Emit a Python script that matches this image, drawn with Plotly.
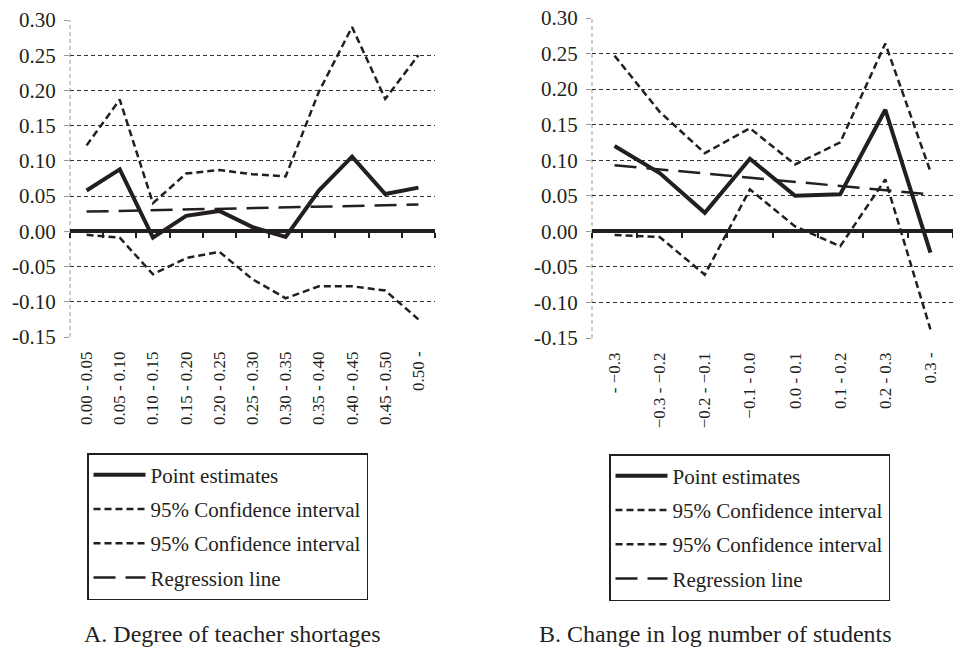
import plotly.graph_objects as go

# ---------------- data ----------------
cats_a = ["0.00 - 0.05", "0.05 - 0.10", "0.10 - 0.15", "0.15 - 0.20", "0.20 - 0.25",
          "0.25 - 0.30", "0.30 - 0.35", "0.35 - 0.40", "0.40 - 0.45", "0.45 - 0.50", "0.50 -"]
point_a = [0.058, 0.088, -0.009, 0.022, 0.029, 0.006, -0.008, 0.058, 0.106, 0.053, 0.062]
upper_a = [0.122, 0.187, 0.040, 0.082, 0.087, 0.081, 0.078, 0.198, 0.290, 0.188, 0.250]
lower_a = [-0.005, -0.009, -0.061, -0.038, -0.029, -0.068, -0.095, -0.078, -0.078, -0.084, -0.125]
reg_a = [0.028, 0.029, 0.030, 0.031, 0.032, 0.033, 0.034, 0.035, 0.036, 0.037, 0.038]

cats_b = ["- \u22120.3", "\u22120.3 - \u22120.2", "\u22120.2 - \u22120.1", "\u22120.1 - 0.0",
          "0.0 - 0.1", "0.1 - 0.2", "0.2 - 0.3", "0.3 -"]
point_b = [0.120, 0.082, 0.026, 0.102, 0.050, 0.052, 0.171, -0.030]
upper_b = [0.247, 0.168, 0.110, 0.145, 0.094, 0.125, 0.264, 0.084]
lower_b = [-0.005, -0.008, -0.061, 0.059, 0.007, -0.021, 0.073, -0.138]
reg_b = [0.093, 0.087, 0.081, 0.075, 0.070, 0.064, 0.058, 0.052]

y_tick_vals = [-0.15, -0.10, -0.05, 0.00, 0.05, 0.10, 0.15, 0.20, 0.25, 0.30]
y_tick_text = ["-0.15", "-0.10", "-0.05", "0.00", "0.05", "0.10", "0.15", "0.20", "0.25", "0.30"]

series_names = ["Point estimates", "95% Confidence interval", "95% Confidence interval", "Regression line"]
panel_titles = ["A. Degree of teacher shortages", "B. Change in log number of students"]

# ---------------- style ----------------
INK = "#231f20"
FONT = "Liberation Serif"
W, H = 953, 652
styles = [
    dict(width=4, dash="solid"),
    dict(width=2.5, dash="7px,4px"),
    dict(width=2.5, dash="7px,4px"),
    dict(width=2.5, dash="22px,10px"),
]

fig = go.Figure()

# point estimates are drawn on the overlay axis (x3 / x4) so that axis (the zero line) is rendered
panels = [
    dict(cats=cats_a, series=[point_a, upper_a, lower_a, reg_a], xa="x", xz="x3", ya="y",
         legend="legend", grp="a"),
    dict(cats=cats_b, series=[point_b, upper_b, lower_b, reg_b], xa="x2", xz="x4", ya="y2",
         legend="legend2", grp="b"),
]

for p in panels:
    for i, (name, vals) in enumerate(zip(series_names, p["series"])):
        fig.add_trace(go.Scatter(
            x=p["cats"], y=vals, mode="lines", name=name,
            line=dict(color=INK, width=styles[i]["width"], dash=styles[i]["dash"]),
            xaxis=p["xz"] if i == 0 else p["xa"], yaxis=p["ya"], legend=p["legend"],
            legendgroup=f"{p['grp']}{i}", hoverinfo="skip",
        ))

# plot area geometry (pixels)
left_px = dict(x0=70, x1=435, top=20, bottom=337)
right_px = dict(x0=592, x1=953, top=18, bottom=338)

def dom_x(g):
    return [g["x0"] / W, g["x1"] / W]

def dom_y(g):
    return [1 - g["bottom"] / H, 1 - g["top"] / H]

ymin, ymax = -0.15, 0.30

def yaxis_cfg(g):
    return dict(
        domain=dom_y(g), range=[ymin, ymax], tickvals=y_tick_vals, ticktext=y_tick_text,
        showgrid=True, gridcolor="#333", gridwidth=1.2, griddash="4px,3px",
        zeroline=False, showline=False, automargin=False,
        ticks="outside", ticklen=5, tickcolor="#999", tickwidth=1,
        tickfont=dict(family=FONT, size=21, color=INK), ticklabelstandoff=4,
    )

def xaxis_cfg(g, cats, anchor):
    return dict(
        domain=dom_x(g), type="category", categoryorder="array", categoryarray=cats,
        range=[-0.5, len(cats) - 0.5], anchor=anchor, automargin=False,
        showgrid=False, zeroline=False, showline=False, ticks="",
        tickangle=-90, tickfont=dict(family=FONT, size=17, color=INK), ticklabelstandoff=10,
    )

def zero_axis_cfg(g, cats, over):
    yd = dom_y(g)
    pos = yd[0] + (0 - ymin) / (ymax - ymin) * (yd[1] - yd[0])
    return dict(
        domain=dom_x(g), type="category", categoryorder="array", categoryarray=cats,
        range=[-0.5, len(cats) - 0.5], overlaying=over, anchor="free", position=pos,
        side="bottom", showgrid=False, zeroline=False, automargin=False,
        showline=True, linecolor=INK, linewidth=3.5,
        ticks="outside", tickson="boundaries", ticklen=5, tickwidth=2, tickcolor=INK,
        showticklabels=False, layer="below traces",
    )

legend_common = dict(xanchor="left", yanchor="top",
                     bordercolor=INK, borderwidth=1.5, bgcolor="white",
                     font=dict(family=FONT, size=21, color=INK),
                     itemwidth=52, tracegroupgap=4)

fig.update_layout(
    template="none",
    width=W, height=H,
    font=dict(family=FONT, color=INK),
    margin=dict(l=0, r=0, t=0, b=0, autoexpand=False),
    paper_bgcolor="white", plot_bgcolor="white",
    xaxis=xaxis_cfg(left_px, cats_a, "y"),
    yaxis=yaxis_cfg(left_px) | dict(anchor="x"),
    xaxis2=xaxis_cfg(right_px, cats_b, "y2"),
    yaxis2=yaxis_cfg(right_px) | dict(anchor="x2"),
    xaxis3=zero_axis_cfg(left_px, cats_a, "x"),
    xaxis4=zero_axis_cfg(right_px, cats_b, "x2"),
    legend=legend_common | dict(x=87 / W, y=1 - 453 / H),
    legend2=legend_common | dict(x=609 / W, y=1 - 454 / H),
    showlegend=True,
    annotations=[
        dict(text=panel_titles[0], x=232 / W, y=0.004, xref="paper", yref="paper",
             showarrow=False, xanchor="center", yanchor="bottom",
             font=dict(family=FONT, size=24, color=INK)),
        dict(text=panel_titles[1], x=715 / W, y=0.004, xref="paper", yref="paper",
             showarrow=False, xanchor="center", yanchor="bottom",
             font=dict(family=FONT, size=24, color=INK)),
    ],
    shapes=[
        dict(type="line", xref="x domain", yref="y domain", x0=0, x1=0, y0=0, y1=1,
             line=dict(color="#999", width=1, dash="4px,3px"), layer="below"),
        dict(type="line", xref="x2 domain", yref="y2 domain", x0=0, x1=0, y0=0, y1=1,
             line=dict(color="#999", width=1, dash="4px,3px"), layer="below"),
    ],
)

fig.write_html("out.html", config={"displayModeBar": False},
               post_script="document.body.style.margin='0';")
